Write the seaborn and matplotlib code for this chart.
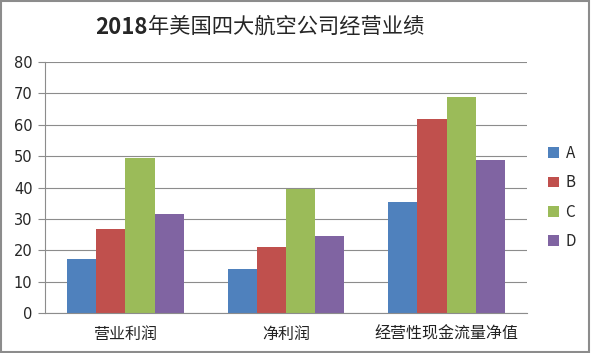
import numpy as np
import pandas as pd
import matplotlib
matplotlib.use("Agg")
import matplotlib.pyplot as plt
import seaborn as sns
from matplotlib.patches import Rectangle

categories = ["营业利润", "净利润", "经营性现金流量净值"]
companies = ["A", "B", "C", "D"]
values_a = [17.2, 14.1, 35.3]
values_b = [26.7, 21.2, 61.8]
values_c = [49.5, 39.4, 68.9]
values_d = [31.5, 24.7, 48.9]
colors = ["#4F81BD", "#C0504D", "#9BBB59", "#8064A2"]
title_year = "2018"
title_rest = "年美国四大航空公司经营业绩"


def main():
    rows = []
    for comp, vals in zip(companies, [values_a, values_b, values_c, values_d]):
        for cat, v in zip(categories, vals):
            rows.append({"category": cat, "company": comp, "value": v})
    df = pd.DataFrame(rows)

    sns.set_style("white")
    plt.rcParams["font.family"] = ["Noto Sans CJK SC", "DejaVu Sans"]

    fig = plt.figure(figsize=(5.91, 3.53), dpi=100)
    ax = fig.add_axes([45 / 591, 1 - 313.3 / 353, (527 - 45) / 591, (313.3 - 61.7) / 353])

    sns.barplot(data=df, x="category", y="value", hue="company", order=categories,
                hue_order=companies, palette=colors, width=4 / 5.5, saturation=1,
                linewidth=0, ax=ax, legend=True)

    grid_c = "#8c8c8c"
    ax.set_ylim(0, 80)
    ax.set_xlim(-0.5, 2.5)
    ax.set_yticks(np.arange(0, 81, 10))
    ax.yaxis.grid(True, color=grid_c, linewidth=0.8)
    ax.set_axisbelow(True)
    ax.set_xlabel("")
    ax.set_ylabel("")
    for s in ["top", "right"]:
        ax.spines[s].set_visible(False)
    for s in ["left", "bottom"]:
        ax.spines[s].set_color(grid_c)
        ax.spines[s].set_linewidth(0.8)

    ax.set_xticks([-0.5, 0.5, 1.5, 2.5], minor=True)
    ax.tick_params(axis="x", which="major", length=0, pad=9, labelsize=11.5)
    ax.tick_params(axis="x", which="minor", length=5, color=grid_c, width=0.8, direction="out")
    ax.tick_params(axis="y", length=5, color=grid_c, width=0.8, direction="out", labelsize=10.5, pad=4)
    ax.tick_params(left=True, bottom=True)
    for lab in ax.get_xticklabels():
        lab.set_fontweight("light")
        lab.set_color("#222222")
    for lab in ax.get_yticklabels():
        lab.set_family(["DejaVu Sans"])

    ax.legend(loc="center left", bbox_to_anchor=(548 / 591, 1 - 197.5 / 353),
              bbox_transform=fig.transFigure, frameon=False, borderpad=0, borderaxespad=0,
              handlelength=0.7, handleheight=0.7, handletextpad=0.45, labelspacing=0.8,
              fontsize=11, title=None)

    split_x = 148 / 591
    title_y = 1 - 27 / 353
    fig.text(split_x, title_y, title_year, ha="right", va="center",
             fontsize=16, fontweight="bold")
    fig.text(split_x, title_y, title_rest, ha="left", va="center",
             fontsize=15.3, fontweight="medium")

    fig.patches.append(Rectangle((0.002, 0.004), 0.994, 0.993, transform=fig.transFigure,
                                 fill=False, edgecolor="#8c8c8c", linewidth=1.5))

    fig.savefig("out.png", dpi=100)


if __name__ == "__main__":
    main()
